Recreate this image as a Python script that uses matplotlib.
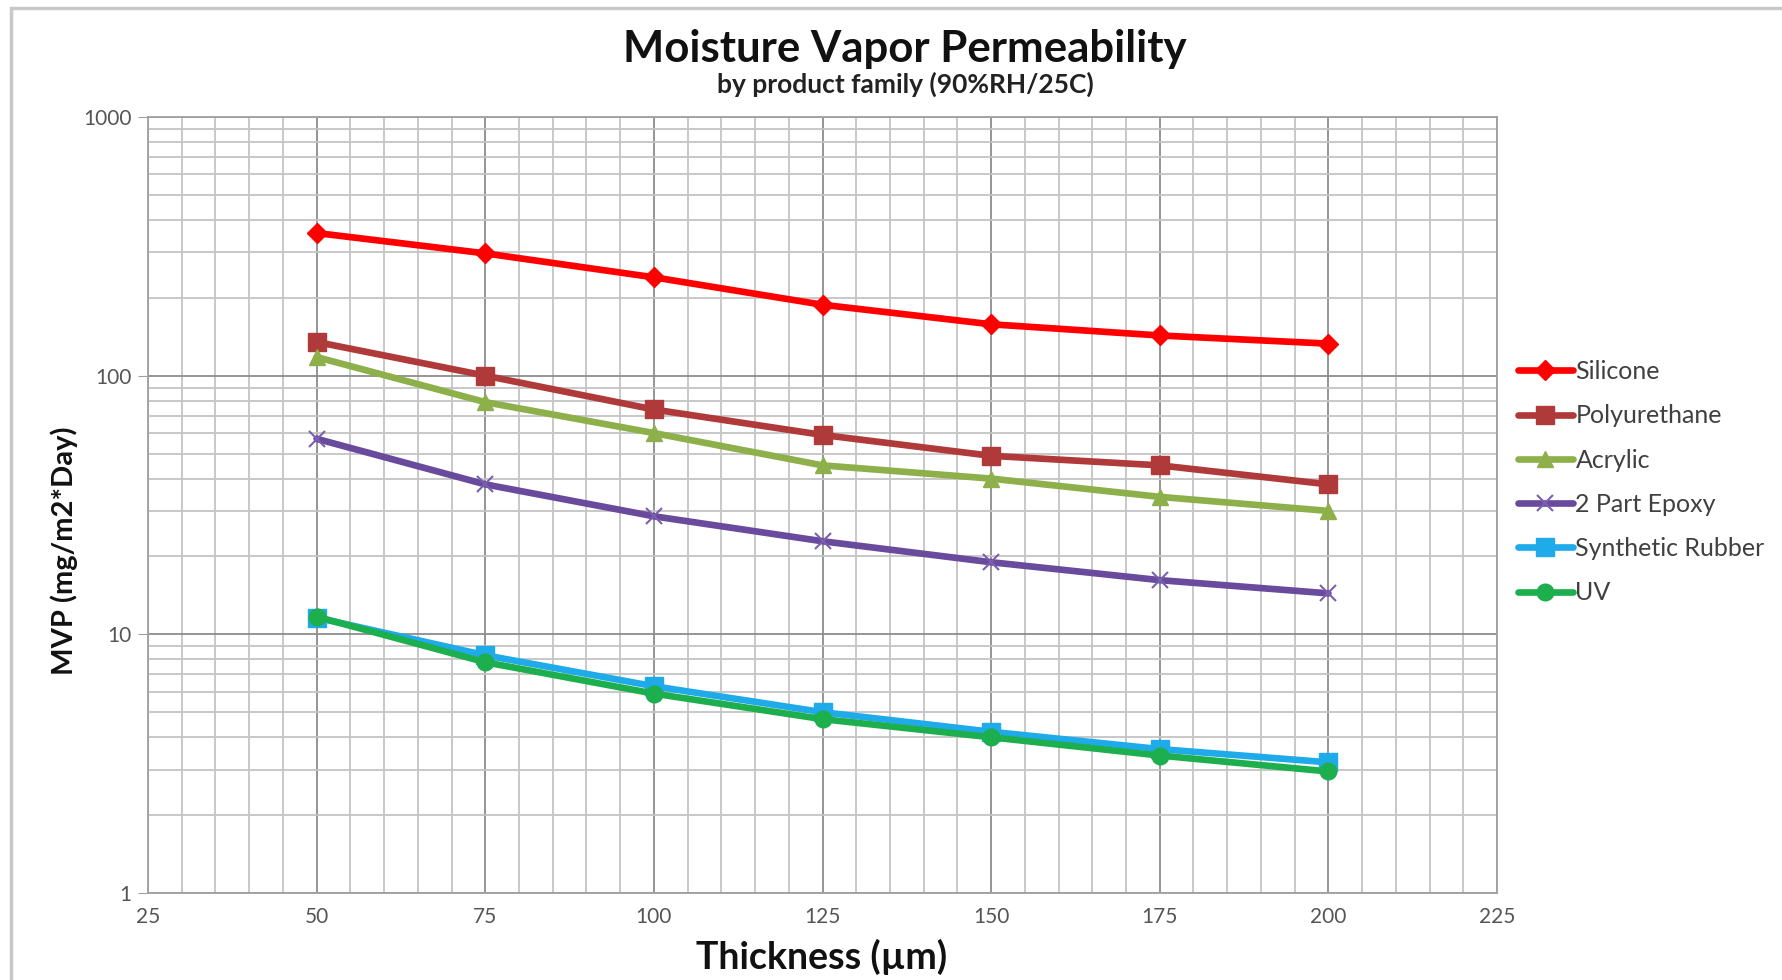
import matplotlib
matplotlib.use("Agg")
import matplotlib.pyplot as plt
from matplotlib.ticker import FixedLocator, LogLocator, NullFormatter
from matplotlib.patches import Rectangle

plt.rcParams['font.family'] = ['Lato', 'DejaVu Sans']

thickness = [50, 75, 100, 125, 150, 175, 200]
silicone = [356, 297, 240, 188, 158, 143, 133]
polyurethane = [135, 100, 74, 59, 49, 45, 38]
acrylic = [118, 79, 60, 45, 40, 34, 30]
epoxy = [57, 38, 28.6, 22.9, 19, 16.2, 14.4]
synthetic_rubber = [11.6, 8.3, 6.3, 5.0, 4.2, 3.6, 3.2]
uv = [11.7, 7.8, 5.9, 4.7, 4.0, 3.4, 2.95]

series_names = ["Silicone", "Polyurethane", "Acrylic", "2 Part Epoxy", "Synthetic Rubber", "UV"]
series_values = [silicone, polyurethane, acrylic, epoxy, synthetic_rubber, uv]
colors = ["#FF0000", "#B03A3A", "#8DB04A", "#6A4A9C", "#1FAAEA", "#1DAF4E"]
markers = ["D", "s", "^", "x", "s", "o"]
msizes = [10, 13, 12, 12, 13, 12]

x_ticks = [25, 50, 75, 100, 125, 150, 175, 200, 225]
y_ticks = [1, 10, 100, 1000]

fig = plt.figure(figsize=(17.83, 9.80), dpi=100)
fig.patches.append(Rectangle((11/1783, -0.1), 1.2, (1 - 8/980) + 0.1, transform=fig.transFigure,
                             fill=False, edgecolor="#c8c8c8", linewidth=2.5, zorder=0))

ax = fig.add_axes([148/1783, 1 - 893/980, (1497-148)/1783, (893-117)/980])
ax.set_yscale("log")
ax.set_xlim(25, 225)
ax.set_ylim(1, 1000)

for name, vals, c, m, ms in zip(series_names, series_values, colors, markers, msizes):
    kw = dict(markeredgecolor=c, markerfacecolor=c)
    if m == "x":
        kw = dict(markeredgecolor="#7a5fb0", markeredgewidth=1.5)
    ax.plot(thickness, vals, color=c, linewidth=4.8, marker=m, markersize=ms,
            label=name, zorder=3, solid_capstyle="round", **kw)

ax.xaxis.set_major_locator(FixedLocator(x_ticks))
ax.xaxis.set_minor_locator(FixedLocator(list(range(25, 226, 5))))
ax.yaxis.set_major_locator(FixedLocator(y_ticks))
ax.yaxis.set_minor_locator(LogLocator(base=10, subs=range(2, 10)))
ax.yaxis.set_minor_formatter(NullFormatter())
ax.set_xticklabels([str(v) for v in x_ticks])
ax.set_yticklabels([str(v) for v in y_ticks])

ax.grid(True, which="major", color="#8c8c8c", linewidth=1.3)
ax.grid(True, which="minor", color="#c4c4c4", linewidth=1.3)
ax.set_axisbelow(True)
for s in ax.spines.values():
    s.set_color("#a0a0a0")
    s.set_linewidth(1.3)

ax.tick_params(axis="both", which="major", length=7, color="#a0a0a0", labelsize=15,
               labelcolor="#555555", pad=5)
ax.tick_params(axis="both", which="minor", length=0)
ax.tick_params(axis="x", which="major", length=0, pad=10)

fig.text(905/1783, 1 - 49/980, "Moisture Vapor Permeability", ha="center", va="center",
         fontsize=31.5, fontweight="bold", color="#111111")
fig.text(905/1783, 1 - 84/980, "by product family (90%RH/25C)", ha="center", va="center",
         fontsize=19, fontweight="bold", color="#222222")
fig.text(822/1783, 1 - 957/980, "Thickness (\u00b5m)", ha="center", va="center",
         fontsize=27, fontweight="bold", color="#111111")
fig.text(64/1783, 1 - 551/980, "MVP (mg/m2*Day)", ha="center", va="center", rotation=90,
         fontsize=21, fontweight="bold", color="#111111")

leg = fig.legend(loc="upper left", bbox_to_anchor=(1508/1783, 1 - 350/980), frameon=False,
                 fontsize=18, handlelength=2.2, handletextpad=0.1, labelspacing=0.85,
                 labelcolor="#404040", borderaxespad=0)

fig.savefig("out.png", dpi=100, facecolor="white")
